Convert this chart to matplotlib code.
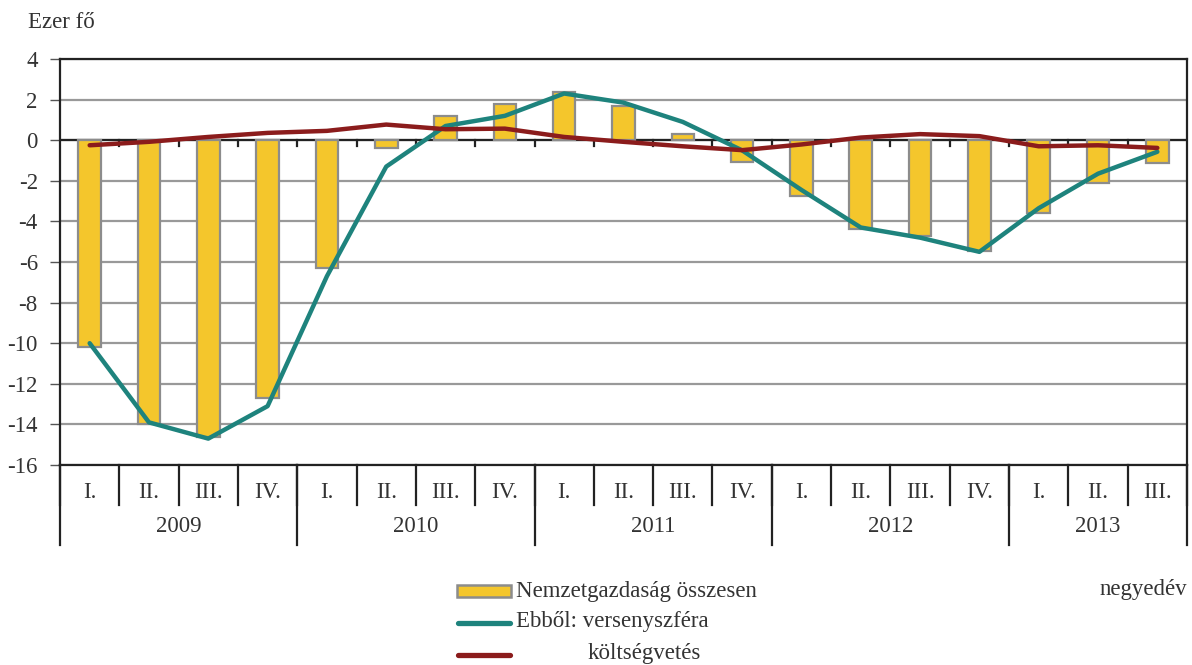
import matplotlib
matplotlib.use("Agg")
import matplotlib.pyplot as plt
import numpy as np

years = ["2009", "2010", "2011", "2012", "2013"]
quarters_per_year = [4, 4, 4, 4, 3]
quarter_labels = ["I.", "II.", "III.", "IV.",
                  "I.", "II.", "III.", "IV.",
                  "I.", "II.", "III.", "IV.",
                  "I.", "II.", "III.", "IV.",
                  "I.", "II.", "III."]

total = [-10.2, -14.0, -14.6, -12.7,
         -6.3, -0.4, 1.2, 1.8,
         2.35, 1.7, 0.33, -1.07,
         -2.76, -4.35, -4.7, -5.45,
         -3.6, -2.13, -1.1]
competitive = [-10.0, -13.9, -14.7, -13.1,
               -6.7, -1.3, 0.7, 1.2,
               2.3, 1.85, 0.9, -0.5,
               -2.45, -4.3, -4.8, -5.5,
               -3.35, -1.65, -0.57]
budget = [-0.25, -0.08, 0.16, 0.36,
          0.46, 0.77, 0.54, 0.57,
          0.16, -0.08, -0.3, -0.49,
          -0.21, 0.13, 0.3, 0.2,
          -0.3, -0.25, -0.38]

legend_labels = ["Nemzetgazdaság összesen", "Ebből: versenyszféra", "költségvetés"]
y_unit = "Ezer fő"
x_unit = "negyedév"

FONT = ["Liberation Serif", "DejaVu Serif"]
plt.rcParams["font.family"] = FONT
TXT = "#333333"
FS = 16.5

W, H = 1192, 665
fig = plt.figure(figsize=(W / 100, H / 100), dpi=100)
ax = fig.add_axes([60 / W, (H - 465) / H, 1127 / W, 406 / H])

n = len(total)
x = np.arange(n)
ax.bar(x, total, width=0.38, color="#F4C62C", edgecolor="#8C8C8C", linewidth=1.6, zorder=3)
ax.plot(x, competitive, color="#1E837D", linewidth=3.2, solid_joinstyle="round",
        solid_capstyle="round", zorder=4)
ax.plot(x, budget, color="#8B1C1C", linewidth=3.2, solid_joinstyle="round",
        solid_capstyle="round", zorder=5)

ax.set_xlim(-0.5, n - 0.5)
ax.set_ylim(-16, 4)
ax.set_yticks(np.arange(-16, 5, 2))
ax.set_yticklabels([str(v) for v in range(-16, 5, 2)], fontsize=FS, color=TXT)
ax.tick_params(axis="y", length=7, width=1, color="#555555", pad=9)
ax.set_xticks([])
ax.grid(axis="y", color="#999999", linewidth=1.6, zorder=0)
for s in ["top", "right", "bottom", "left"]:
    ax.spines[s].set_color("#222222")
    ax.spines[s].set_linewidth(1.6)

# zero line with small ticks at category boundaries
ax.axhline(0, color="#222222", linewidth=1.6, zorder=2)
for b in np.arange(0.5, n - 0.5, 1):
    ax.plot([b, b], [0, -0.3], color="#222222", linewidth=1.6, zorder=2)

trans = ax.get_xaxis_transform()
q_bottom = -(505 - 465) / 406
y_bottom = -(545 - 465) / 406
# quarter dividers
for b in np.arange(-0.5, n, 1):
    ax.plot([b, b], [0, q_bottom], transform=trans, color="#222222", linewidth=1.6,
            clip_on=False)
for i, lab in enumerate(quarter_labels):
    ax.text(i, -(492 - 465) / 406, lab, transform=trans, ha="center", va="center",
            fontsize=FS, color=TXT)
# year dividers and labels
start = -0.5
bounds = [start]
for q in quarters_per_year:
    start += q
    bounds.append(start)
for b in bounds:
    ax.plot([b, b], [0, y_bottom], transform=trans, color="#222222", linewidth=1.6,
            clip_on=False)
for i, yr in enumerate(years):
    ax.text((bounds[i] + bounds[i + 1]) / 2, -(527 - 465) / 406, yr, transform=trans,
            ha="center", va="center", fontsize=FS, color=TXT)

fig.text(28 / W, 1 - 22 / H, y_unit, ha="left", va="center", fontsize=FS, color=TXT)
fig.text(1187 / W, 1 - 590 / H, x_unit, ha="right", va="center", fontsize=FS, color=TXT)

# legend (manual)
fig.patches.append(matplotlib.patches.Rectangle((457 / W, 1 - 597 / H), 54 / W, 12 / H,
                   transform=fig.transFigure, facecolor="#F4C62C", edgecolor="#8C8C8C",
                   linewidth=1.8))
fig.lines.append(matplotlib.lines.Line2D([458 / W, 510 / W], [1 - 623 / H, 1 - 623 / H],
                 transform=fig.transFigure, color="#1E837D", linewidth=3.8, solid_capstyle="round"))
fig.lines.append(matplotlib.lines.Line2D([458 / W, 510 / W], [1 - 655 / H, 1 - 655 / H],
                 transform=fig.transFigure, color="#8B1C1C", linewidth=3.8, solid_capstyle="round"))
fig.text(516 / W, 1 - 591 / H, legend_labels[0], ha="left", va="center", fontsize=FS, color=TXT)
fig.text(516 / W, 1 - 622 / H, legend_labels[1], ha="left", va="center", fontsize=FS, color=TXT)
fig.text(588 / W, 1 - 654 / H, legend_labels[2], ha="left", va="center", fontsize=FS, color=TXT)

fig.savefig("out.png", dpi=100)
